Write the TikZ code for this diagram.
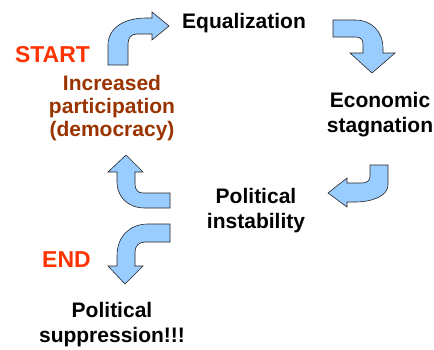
\documentclass[tikz,border=0pt]{standalone}
\usepackage{fontspec}
\setmainfont{Liberation Sans}
\definecolor{arrowblue}{HTML}{99CCFF}
\definecolor{startred}{HTML}{FF3300}
\definecolor{brown}{HTML}{993300}
\tikzset{
  blockarrow/.style={fill=arrowblue, draw=black!85, line width=0.6pt, line join=miter},
  lbl/.style={inner sep=0pt, align=center, anchor=base, font=\bfseries\fontsize{21}{25}\selectfont},
  tag/.style={inner sep=0pt, anchor=base, text=startred, font=\bfseries\fontsize{23}{27}\selectfont}
}
\begin{document}
\begin{tikzpicture}[x=1pt,y=-1pt]
\useasboundingbox (0,0) rectangle (434,349);
% text nodes (base anchor = baseline of last line)
\node[lbl] (eq) at (244,28) {Equalization};
\node[lbl] (econ) at (380,132) {Economic\\stagnation};
\node[lbl] (instab) at (256,228) {Political\\instability};
\node[lbl] (supp) at (112,342) {Political\\suppression!!!};
\node[lbl, text=brown, font=\bfseries\fontsize{21}{23}\selectfont] (incr) at (112,136) {Increased\\participation\\(democracy)};
\node[tag] (startlbl) at (52.5,62) {START};
\node[tag] (endlbl) at (66.5,267) {END};
% arrow 1: up then right
\draw[blockarrow] (108,65) -- (108,45) .. controls (108,28) and (124,18) .. (146,18) -- (152,18) -- (152,12) -- (169,26) -- (152,40) -- (152,34) -- (137,34) .. controls (131,34) and (128,38) .. (128,44) -- (128,65) -- cycle;
% arrow 2: right then down
\draw[blockarrow] (333,20) -- (355,20) .. controls (372,20) and (383,32) .. (383,48) -- (383,53) -- (395,53) -- (372,73) -- (350,53) -- (363,53) -- (363,44) .. controls (363,39) and (360,37) .. (355,37) -- (333,37) -- cycle;
% arrow 3: down then left
\draw[blockarrow] (370,165) -- (388,165) -- (388,185) .. controls (388,196) and (372,202) .. (355,202) -- (347,202) -- (347,207) -- (328,193) -- (347,178) -- (347,183) -- (361,183) .. controls (367,183) and (370,181) .. (370,176) -- cycle;
% arrow 4: left then up
\draw[blockarrow] (170,193) -- (170,208) -- (145,208) .. controls (128,208) and (117,197) .. (117,182) -- (117,172) -- (108,172) -- (126,155) -- (143,172) -- (135,172) -- (135,184) .. controls (135,190) and (138,193) .. (143,193) -- cycle;
% arrow 5: left then down
\draw[blockarrow] (170,224) -- (170,242) -- (145,242) .. controls (139,242) and (135,246) .. (135,252) -- (135,266) -- (143,266) -- (125,284) -- (108,266) -- (117,266) -- (117,256) .. controls (117,236) and (130,224) .. (148,224) -- cycle;
\end{tikzpicture}
\end{document}
